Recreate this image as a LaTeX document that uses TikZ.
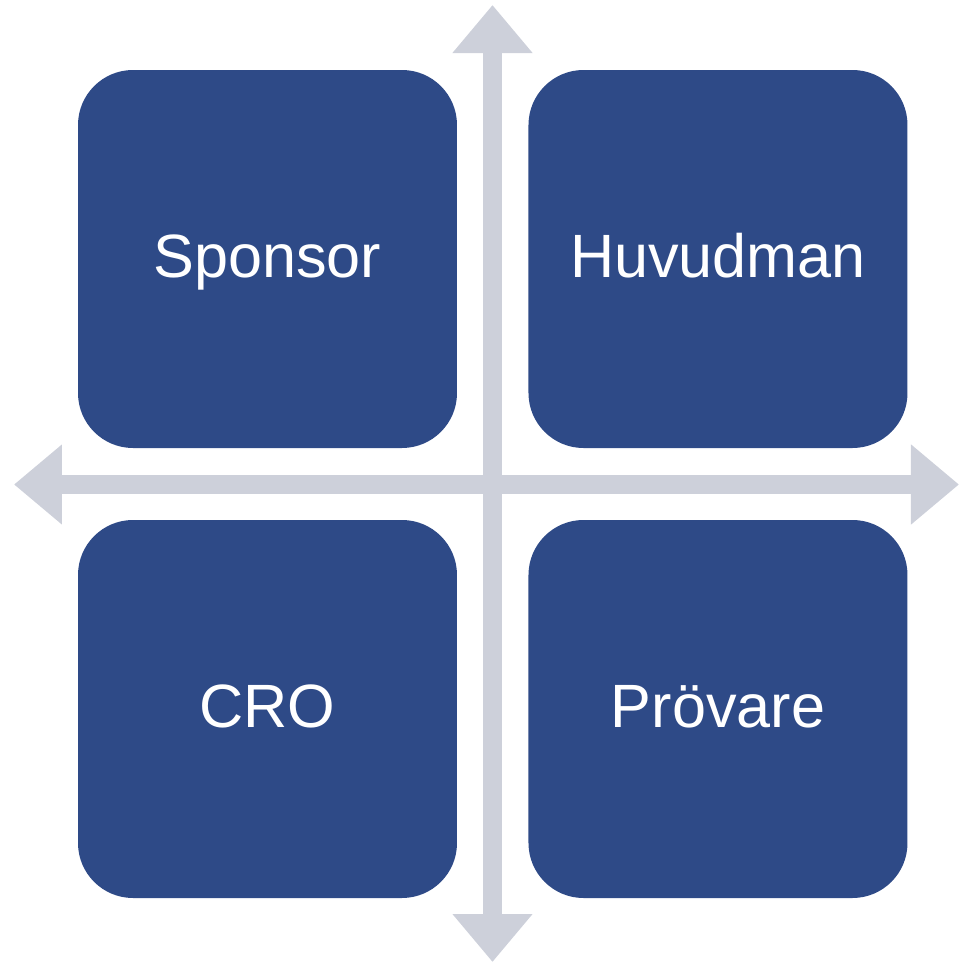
\documentclass[tikz,border=0pt]{standalone}
\usepackage{fontspec}
\setmainfont{Liberation Sans}
\usepackage{tikz}
\usetikzlibrary{arrows.meta}
\usepackage{xcolor}
\definecolor{boxblue}{HTML}{2E4A87}
\definecolor{axisgray}{HTML}{CDD0DA}

\begin{document}
\begin{tikzpicture}[
  quad/.style={draw=none, fill=boxblue, rounded corners=0.55cm,
    minimum width=3.79cm, minimum height=3.78cm, inner sep=0pt,
    text height=0.36cm, text depth=0pt,
    text=white, font=\fontsize{17.4pt}{20pt}\selectfont},
  axis/.style={draw=axisgray, line width=0.19cm,
    {Triangle[length=0.48cm,width=0.77cm]}-{Triangle[length=0.48cm,width=0.77cm]}}]
  \useasboundingbox (0,0) rectangle (9.59,9.63);
  \coordinate (pN) at (4.925,9.58);
  \coordinate (pS) at (4.925,0.01);
  \coordinate (pW) at (0.14,4.785);
  \coordinate (pE) at (9.59,4.785);
  \draw[axis] (pS) -- (pN);
  \draw[axis] (pW) -- (pE);
  \node[quad] (sponsor) at (2.675,7.04) {Sponsor};
  \node[quad] (huvudman) at (7.18,7.04) {Huvudman};
  \node[quad] (cro) at (2.675,2.54) {CRO};
  \node[quad] (provare) at (7.18,2.54) {Prövare};
\end{tikzpicture}
\end{document}
